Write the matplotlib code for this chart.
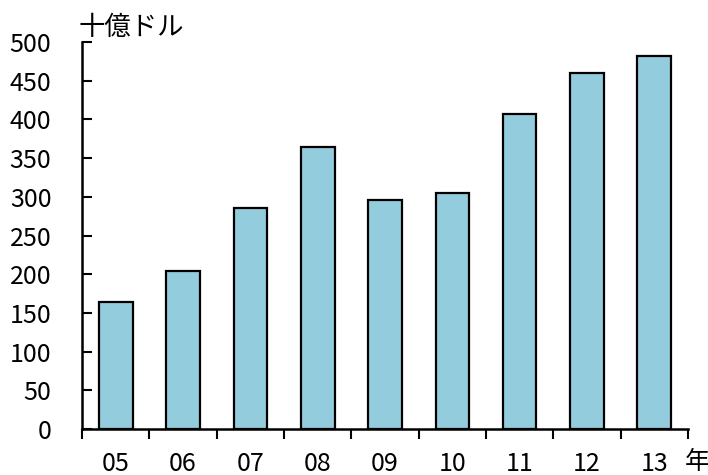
import matplotlib
matplotlib.use("Agg")
import matplotlib.pyplot as plt
import numpy as np

plt.rcParams['font.family'] = ['Noto Sans CJK JP', 'DejaVu Sans']

years = ["05", "06", "07", "08", "09", "10", "11", "12", "13"]
values = [164, 204, 285, 364, 296, 305, 407, 460, 482]
y_ticks = [0, 50, 100, 150, 200, 250, 300, 350, 400, 450, 500]
unit_label = "十億ドル"
year_label = "年"

fs = 18

fig = plt.figure(figsize=(7.08, 4.75), dpi=100)
ax = fig.add_axes([82 / 708, 1 - 429 / 475, (688 - 82) / 708, (429 - 42) / 475])

x = np.arange(len(years))
ax.bar(x, values, width=0.5, color="#93CDDD", edgecolor="black", linewidth=1.6, zorder=2)

ax.set_xlim(-0.5, len(years) - 0.5)
ax.set_ylim(0, 500)

for side in ("top", "right"):
    ax.spines[side].set_visible(False)
for side in ("left", "bottom"):
    ax.spines[side].set_linewidth(1.8)

ax.set_yticks(y_ticks)
ax.set_yticklabels([str(v) for v in y_ticks], fontsize=fs)
ax.tick_params(axis="y", direction="in", length=7, width=1.5, pad=22)

ax.set_xticks(x)
ax.set_xticklabels(years, fontsize=fs)
ax.tick_params(axis="x", which="major", length=0, pad=15.5)
ax.set_xticks(np.arange(-0.5, len(years)), minor=True)
ax.tick_params(axis="x", which="minor", direction="out", length=7, width=1.5)

fig.text(79 / 708, 1 - 27 / 475, unit_label, fontsize=fs + 1, ha="left", va="center")
fig.text(697 / 708, 1 - 462 / 475, year_label, fontsize=fs, ha="center", va="center")

fig.savefig("out.png", dpi=100)
